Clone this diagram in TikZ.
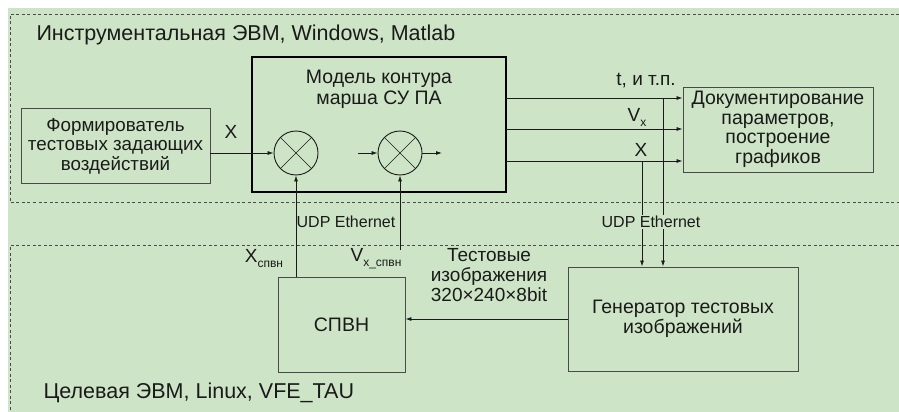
\documentclass[tikz,border=0pt]{standalone}
\usepackage{fontspec}
\setmainfont{Liberation Sans}
\usepackage{xcolor}
\definecolor{bggreen}{HTML}{CDE5C6}
\definecolor{frame}{HTML}{4A4A4A}
\definecolor{ink}{HTML}{1A1A1A}
\usepackage{tikz}
\usetikzlibrary{arrows.meta, positioning, calc}
\newcommand{\subtxt}[1]{\raisebox{-0.5ex}{\fontsize{12}{12}\selectfont #1}}

\begin{document}
\begin{tikzpicture}[x=1pt, y=-1pt, ink,
  zone/.style={draw=frame, line width=0.8pt, dash pattern=on 3pt off 2.5pt},
  box/.style={draw=frame, line width=0.9pt, inner sep=0pt, align=center,
    font=\fontsize{19.5}{19.5}\selectfont},
  mixer/.style={circle, draw=ink, line width=0.9pt, minimum size=44pt, inner sep=0pt},
  conn/.style={draw=ink, line width=0.8pt, -{Latex[length=6pt,width=4pt]}},
  wire/.style={draw=ink, line width=0.8pt},
  lbl/.style={font=\fontsize{19}{20}\selectfont, align=center, inner sep=0pt},
  net/.style={font=\fontsize{16}{16}\selectfont, inner sep=1pt}]

  \fill[white] (0,0) rectangle (899,412);
  \fill[bggreen] (8,8) rectangle (899,412);
  \useasboundingbox (0,0) rectangle (899,412);

  % zones
  \draw[zone] (899,14) -| (10,202) -- (899,202);
  \draw[zone] (899,245) -| (10,412);
  \node[anchor=base west, font=\fontsize{21.5}{21.5}\selectfont] (hostname) at (33,41)
    {Инструментальная ЭВМ, Windows, Matlab};
  \node[anchor=base west, font=\fontsize{21.5}{21.5}\selectfont] (targetname) at (40,398)
    {Целевая ЭВМ, Linux, VFE\_TAU};

  % blocks
  \node[box, font=\fontsize{18.8}{19.5}\selectfont, minimum width=189pt, minimum height=75pt] (former) at (115.5,146)
    {Формирователь\\тестовых задающих\\воздействий};
  \node[box, draw=black, line width=1.3pt, minimum width=254pt, minimum height=135pt] (model) at (379,124.5) {};
  \node[box, draw=none, font=\fontsize{19.5}{21}\selectfont] (modeltitle) at (379,89.5) {Модель контура\\марша СУ ПА};
  \node[mixer] (mixA) at (296,153) {};
  \node[mixer] (mixB) at (400,153) {};
  \draw[wire, line width=0.6pt] (mixA.north west) -- (mixA.south east) (mixA.north east) -- (mixA.south west);
  \draw[wire, line width=0.6pt] (mixB.north west) -- (mixB.south east) (mixB.north east) -- (mixB.south west);
  \node[box, minimum width=190pt, minimum height=85pt] (docs) at (778,129.5)
    {Документирование\\параметров,\\построение\\графиков};
  \node[box, minimum width=127pt, minimum height=95pt] (spvn) at (341.5,324.5) {СПВН};
  \node[box, minimum width=230pt, minimum height=104pt] (gen) at (683,319)
    {Генератор тестовых\\изображений};

  % connectors
  \coordinate (mixBin) at (358,153);
  \coordinate (mixBout) at (442,153);
  \coordinate (vxEnd) at (400,250);
  \coordinate (outT) at (506,98);
  \coordinate (outV) at (506,129);
  \coordinate (outX) at (506,161);
  \coordinate (tapX) at (642,161);
  \coordinate (tapT) at (663,98);

  \draw[conn] (former.east |- mixA.west) -- (mixA.west);
  \node[lbl] (xin) at (231,132) {X};
  \draw[conn] (mixBin) -- (mixB.west);
  \draw[conn] (mixB.east) -- (mixBout);
  \draw[conn] (mixA.south |- spvn.north) -- (mixA.south);
  \draw[conn] (vxEnd) -- (mixB.south);
  \node[net] (netA) at (346,222) {UDP Ethernet};
  \node[lbl] (xspvn) at (264,259) {X\subtxt{спвн}};
  \node[lbl] (vxspvn) at (376,259) {V\subtxt{x\_спвн}};

  \draw[conn] (outT) -- (docs.west |- outT);
  \draw[conn] (outV) -- (docs.west |- outV);
  \draw[conn] (outX) -- (docs.west |- outX);
  \node[lbl] (tlab) at (646,81) {t, и т.п.};
  \node[lbl] (vlab) at (637,117) {V\subtxt{x}};
  \node[lbl] (xlab) at (641,150) {X};
  \draw[conn] (tapX) -- (tapX |- gen.north);
  \draw[conn] (tapT) -- (tapT |- gen.north);
  \node[net, fill=bggreen] (netB) at (651,222) {UDP Ethernet};

  \draw[conn] (gen.west) -- (gen.west -| spvn.east);
  \node[lbl] (imglab) at (489,275) {Тестовые\\изображения\\320×240×8bit};
\end{tikzpicture}
\end{document}
